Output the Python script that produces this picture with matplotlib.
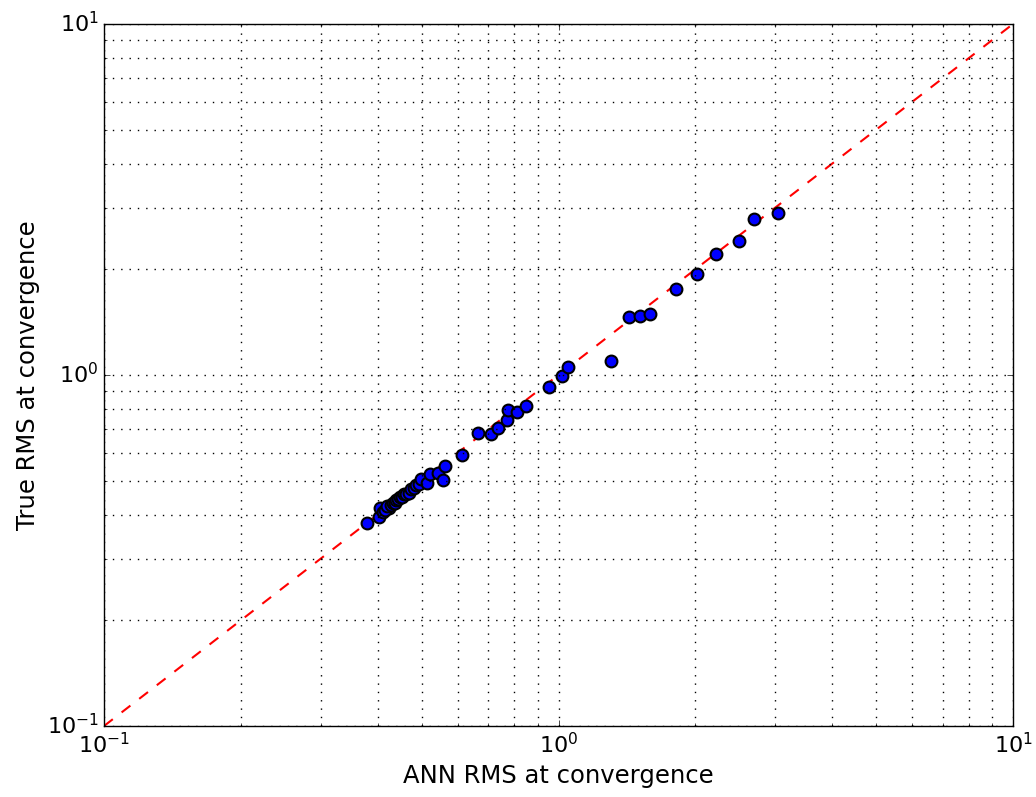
import matplotlib
matplotlib.use("Agg")
import matplotlib.pyplot as plt

plt.style.use("classic")

# converged RMS per case: network estimate vs. true value
ann_rms = [0.379, 0.403, 0.405, 0.424, 0.410, 0.416, 0.420, 0.428, 0.432, 0.436,
           0.440, 0.444, 0.448, 0.452, 0.456, 0.461, 0.469, 0.474, 0.480, 0.486,
           0.492, 0.498, 0.514, 0.522, 0.543, 0.557, 0.563, 0.614, 0.665, 0.710,
           0.736, 0.770, 0.774, 0.810, 0.848, 0.953, 1.018, 1.049, 1.305, 1.429,
           1.511, 1.590, 1.814, 2.017, 2.221, 2.495, 2.692, 3.041]
true_rms = [0.379, 0.394, 0.418, 0.418, 0.408, 0.413, 0.424, 0.426, 0.433, 0.432,
            0.440, 0.442, 0.449, 0.450, 0.458, 0.457, 0.461, 0.472, 0.476, 0.487,
            0.489, 0.505, 0.492, 0.522, 0.526, 0.502, 0.550, 0.592, 0.684, 0.679,
            0.706, 0.744, 0.795, 0.785, 0.816, 0.924, 0.994, 1.054, 1.096, 1.463,
            1.473, 1.492, 1.758, 1.940, 2.212, 2.409, 2.782, 2.894]

lims = [0.1, 10]

fig = plt.figure(figsize=(10.36, 7.97), dpi=100, facecolor="white")
ax = fig.add_axes([0.1004, 0.0891, 0.8774, 0.8808])

ax.plot(lims, lims, color="r", linestyle="--", dashes=(8, 8), linewidth=1.5)
ax.plot(ann_rms, true_rms, "o", markersize=8.5, markerfacecolor="b",
        markeredgecolor="k", markeredgewidth=1.5, linestyle="none")

ax.set_xscale("log")
ax.set_yscale("log")
ax.set_xlim(lims)
ax.set_ylim(lims)
ax.grid(True, which="both", color="k", linestyle=(0, (1, 5)), linewidth=1.0)
ax.set_xlabel("ANN RMS at convergence", fontsize=17.5)
ax.set_ylabel("True RMS at convergence", fontsize=17.5)
ax.tick_params(labelsize=16)

fig.savefig("out.png", dpi=100, facecolor="white")
